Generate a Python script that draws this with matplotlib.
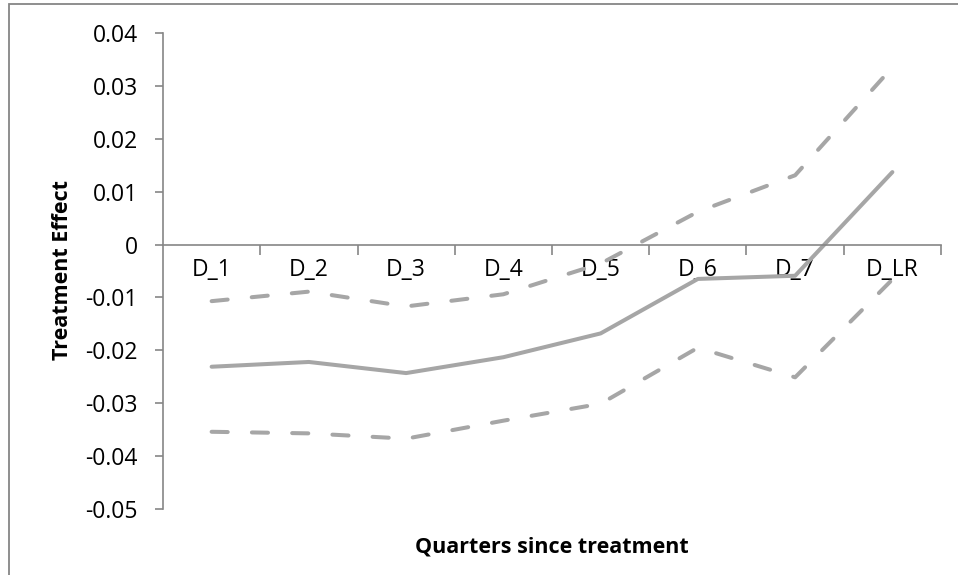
import matplotlib
matplotlib.use("Agg")
import matplotlib.pyplot as plt
from matplotlib.patches import Rectangle

# data
quarters = ["D_1", "D_2", "D_3", "D_4", "D_5", "D_6", "D_7", "D_LR"]
effect = [-0.0231, -0.0222, -0.0243, -0.0213, -0.0168, -0.0065, -0.0059, 0.0137]
upper = [-0.0107, -0.0089, -0.0117, -0.0094, -0.0036, 0.0062, 0.0131, 0.0335]
lower = [-0.0354, -0.0357, -0.0367, -0.0333, -0.0301, -0.0195, -0.0251, -0.0066]
yticks = [0.04, 0.03, 0.02, 0.01, 0, -0.01, -0.02, -0.03, -0.04, -0.05]

plt.rcParams['font.family'] = ['Open Sans', 'DejaVu Sans']
line_col = '#a6a6a6'
axis_col = '#868686'

fig = plt.figure(figsize=(9.58, 5.75), dpi=100)
ax = fig.add_axes([163/958, 1-509/575, (941-163)/958, (509-33)/575])

x = list(range(len(quarters)))
ax.plot(x, effect, color=line_col, lw=2.9, solid_capstyle='round')
ax.plot(x, upper, color=line_col, lw=2.9, dashes=(4.0, 6.0), dash_capstyle='round')
ax.plot(x, lower, color=line_col, lw=2.9, dashes=(4.0, 6.0), dash_capstyle='round')

ax.set_xlim(-0.5, len(quarters) - 0.5)
ax.set_ylim(-0.05, 0.04)

ax.spines['top'].set_visible(False)
ax.spines['right'].set_visible(False)
ax.spines['bottom'].set_position(('data', 0))
for s in ['left', 'bottom']:
    ax.spines[s].set_color(axis_col)
    ax.spines[s].set_linewidth(1.2)

ax.set_yticks(yticks)
ax.set_yticklabels(["0" if v == 0 else f"{v:.2f}" for v in yticks], fontsize=16.5)
ax.tick_params(axis='y', direction='out', length=6, width=1.2, color=axis_col, pad=12)

ax.set_xticks(x)
ax.set_xticklabels(quarters, fontsize=16.5)
ax.tick_params(axis='x', which='major', length=0, pad=10)
ax.set_xticks([i + 0.5 for i in range(len(quarters))], minor=True)
ax.tick_params(axis='x', which='minor', direction='out', length=7, width=1.2, color=axis_col)

ax.set_ylabel("Treatment Effect", fontsize=15.5, fontweight='bold')
ax.yaxis.set_label_coords(-90/778, (509-270)/476)
ax.text(0.5, -38/476, "Quarters since treatment", transform=ax.transAxes,
        ha='center', va='center', fontsize=15.5, fontweight='bold')

# outer chart frame, cut off on the right and bottom
fig.patches.append(Rectangle((9/958, -0.2), 1.5, 1.2 - 4/575, transform=fig.transFigure,
                             fill=False, edgecolor=axis_col, lw=1.3))

fig.savefig("out.png", dpi=100)
